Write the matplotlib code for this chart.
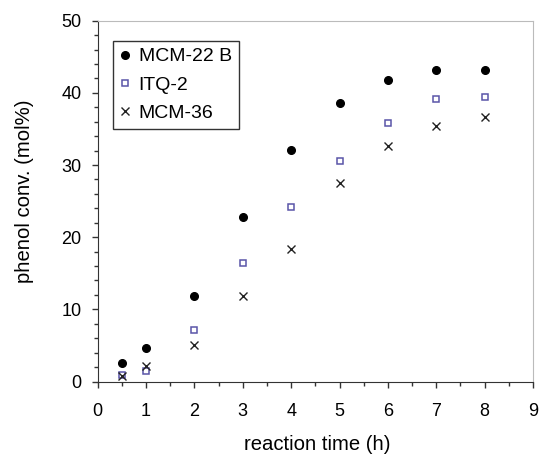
import matplotlib
matplotlib.use("Agg")
import matplotlib.pyplot as plt
from matplotlib.ticker import MultipleLocator

plt.rcParams['font.family'] = ['Liberation Sans', 'DejaVu Sans']

time_h = [0.5, 1, 2, 3, 4, 5, 6, 7, 8]
mcm22b = [2.5, 4.6, 11.9, 22.8, 32.1, 38.6, 41.8, 43.2, 43.2]
itq2 = [0.9, 1.5, 7.1, 16.4, 24.2, 30.6, 35.8, 39.1, 39.4]
mcm36 = [0.8, 2.2, 5.1, 11.8, 18.3, 27.5, 32.7, 35.4, 36.6]

W, H = 541, 455
L, R, T, B = 97.7, 533.0, 20.7, 381.5

fig = plt.figure(figsize=(W/100, H/100), dpi=100)
ax = fig.add_axes([L/W, 1-B/H, (R-L)/W, (B-T)/H])

ax.plot(time_h, mcm22b, 'o', color='black', markersize=5.5, label='MCM-22 B', clip_on=False)
ax.plot(time_h, itq2, 's', markerfacecolor='white', markeredgecolor='#5a55a8',
        markeredgewidth=1.1, markersize=4.8, label='ITQ-2', clip_on=False)
ax.plot(time_h, mcm36, 'x', color='#222222', markersize=6, markeredgewidth=1.0,
        label='MCM-36', clip_on=False)

ax.set_xlim(0, 9)
ax.set_ylim(0, 50)
ax.xaxis.set_major_locator(MultipleLocator(1))
ax.xaxis.set_minor_locator(MultipleLocator(0.5))
ax.yaxis.set_major_locator(MultipleLocator(10))
ax.yaxis.set_minor_locator(MultipleLocator(2))
ax.tick_params(which='major', direction='out', length=4.5, width=1, labelsize=13, color='#333333')
ax.tick_params(which='minor', direction='out', length=3.2, width=1, color='#333333')
ax.tick_params(axis='x', which='major', pad=11)
ax.tick_params(axis='y', which='major', pad=7)

for s in ['top', 'right']:
    ax.spines[s].set_color('#bbbbbb')
for s in ['left', 'bottom']:
    ax.spines[s].set_color('#333333')

ax.set_xlabel('reaction time (h)', fontsize=14.6)
ax.set_ylabel('phenol conv. (mol%)', fontsize=14.6)
ax.xaxis.set_label_coords(0.505, -0.148)
ax.yaxis.set_label_coords(-0.146, 0.527)

leg = ax.legend(loc='upper left', bbox_to_anchor=(0.0345, 0.944), fontsize=14,
                frameon=True, fancybox=False, edgecolor='black', handlelength=0.6,
                handletextpad=0.38, borderpad=0.35, labelspacing=0.55, borderaxespad=0)
leg.get_frame().set_linewidth(1.0)

fig.savefig('out.png', dpi=100)
